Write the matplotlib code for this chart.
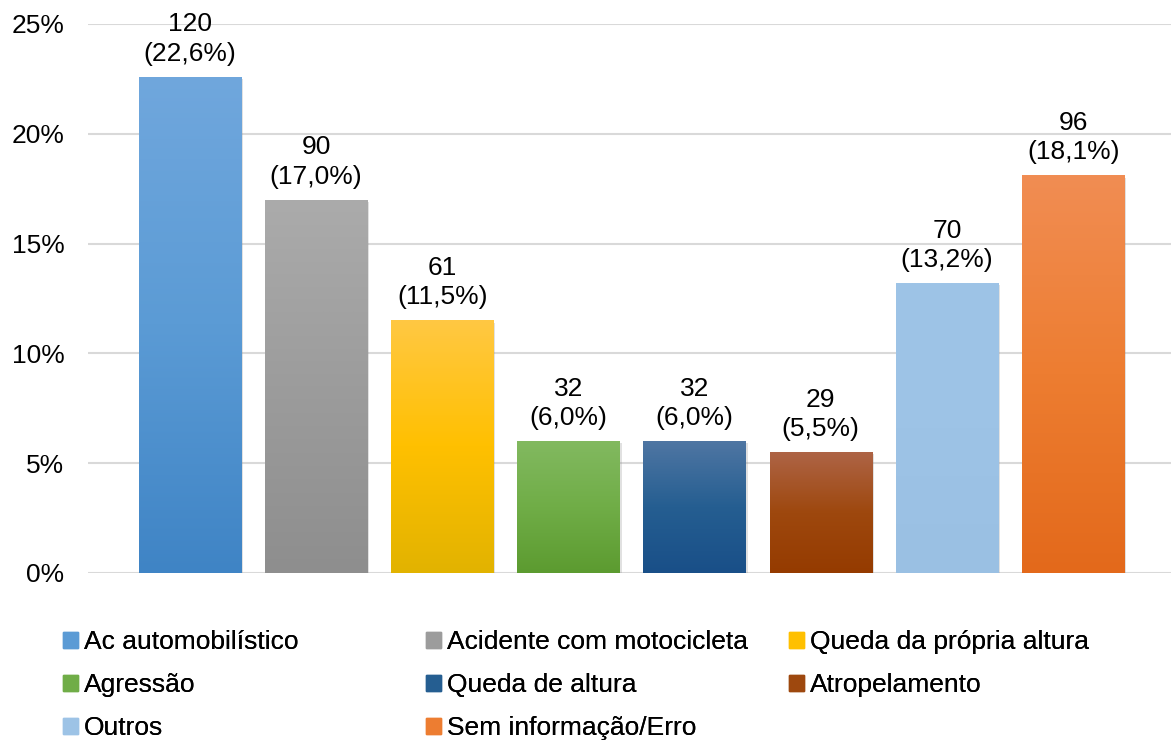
import numpy as np
import matplotlib.pyplot as plt
import matplotlib.patheffects as pe
from matplotlib.colors import LinearSegmentedColormap, to_rgb
from matplotlib.patches import Rectangle

plt.rcParams['font.family'] = ['Liberation Sans', 'DejaVu Sans']

# Causes of trauma: counts and share of total
categories = ["Ac automobilístico", "Acidente com motocicleta", "Queda da própria altura",
              "Agressão", "Queda de altura", "Atropelamento",
              "Outros", "Sem informação/Erro"]
counts = [120, 90, 61, 32, 32, 29, 70, 96]
percents = [22.6, 17.0, 11.5, 6.0, 6.0, 5.5, 13.2, 18.1]
value_labels = ["120\n(22,6%)", "90\n(17,0%)", "61\n(11,5%)", "32\n(6,0%)",
                "32\n(6,0%)", "29\n(5,5%)", "70\n(13,2%)", "96\n(18,1%)"]

# top / middle / bottom colours of each bar's vertical gradient
bar_grad = [("#70a7dd", "#5b9bd5", "#3f84c5"),
            ("#ababab", "#9c9c9c", "#8e8e8e"),
            ("#ffc843", "#ffc000", "#e2b300"),
            ("#82b960", "#70ad47", "#5c9b30"),
            ("#4f76a3", "#255e91", "#194f88"),
            ("#ae6446", "#9e480e", "#953b00"),
            ("#9ec4e7", "#9dc3e6", "#9ac0e3"),
            ("#f18d53", "#ed7d31", "#e3691b")]

fig = plt.figure(figsize=(11.71, 7.42), dpi=100)
ax = fig.add_axes([0.0751, 0.2278, 0.9249, 0.7399])

x = np.arange(len(categories))
bars = ax.bar(x, percents, width=0.81, color=[g[1] for g in bar_grad], zorder=3)

grad = np.linspace(0, 1, 256).reshape(-1, 1)
for b, cols in zip(bars, bar_grad):
    b.set_path_effects([pe.SimplePatchShadow(offset=(1.5, -1.5), shadow_rgbFace="#8a8a8a", alpha=0.25),
                        pe.Normal()])
    cmap = LinearSegmentedColormap.from_list("g", [to_rgb(c) for c in cols[::-1]])
    x0, y0 = b.get_x(), b.get_y()
    im = ax.imshow(grad, cmap=cmap, origin="lower", aspect="auto", zorder=4,
                   extent=(x0, x0 + b.get_width(), y0, y0 + b.get_height()))
    im.set_clip_path(b)

for xi, p, lab in zip(x, percents, value_labels):
    ax.annotate(lab, (xi, p), xytext=(0, 8), textcoords="offset points",
                ha="center", va="bottom", fontsize=19, linespacing=1.28, zorder=5)

ax.set_xlim(-0.807, 7.775)
ax.set_ylim(0, 25)
ax.set_yticks(np.arange(0, 26, 5))
ax.set_yticklabels([f"{t}%" for t in range(0, 26, 5)], fontsize=19)
ax.set_xticks([])
ax.tick_params(axis="y", length=0, pad=17)
ax.yaxis.grid(True, color="#d9d9d9", linewidth=1.5, zorder=0)
ax.set_axisbelow(True)
for s in ax.spines.values():
    s.set_visible(False)

# legend laid out row by row in three columns
handles = [Rectangle((0, 0), 1, 1, color=g[1]) for g in bar_grad]
col_x = [63, 426, 789]
W, H = 1171, 742
for c in range(3):
    idx = list(range(c, len(categories), 3))
    leg = fig.legend([handles[i] for i in idx], [categories[i] for i in idx],
                     loc="upper left", bbox_to_anchor=(col_x[c] / W, 1 - 630 / H),
                     frameon=False, fontsize=19, borderpad=0, borderaxespad=0,
                     handlelength=0.55, handleheight=0.55, handletextpad=0.25,
                     labelspacing=0.72)
    fig.add_artist(leg)

fig.savefig("out.png", dpi=100)
